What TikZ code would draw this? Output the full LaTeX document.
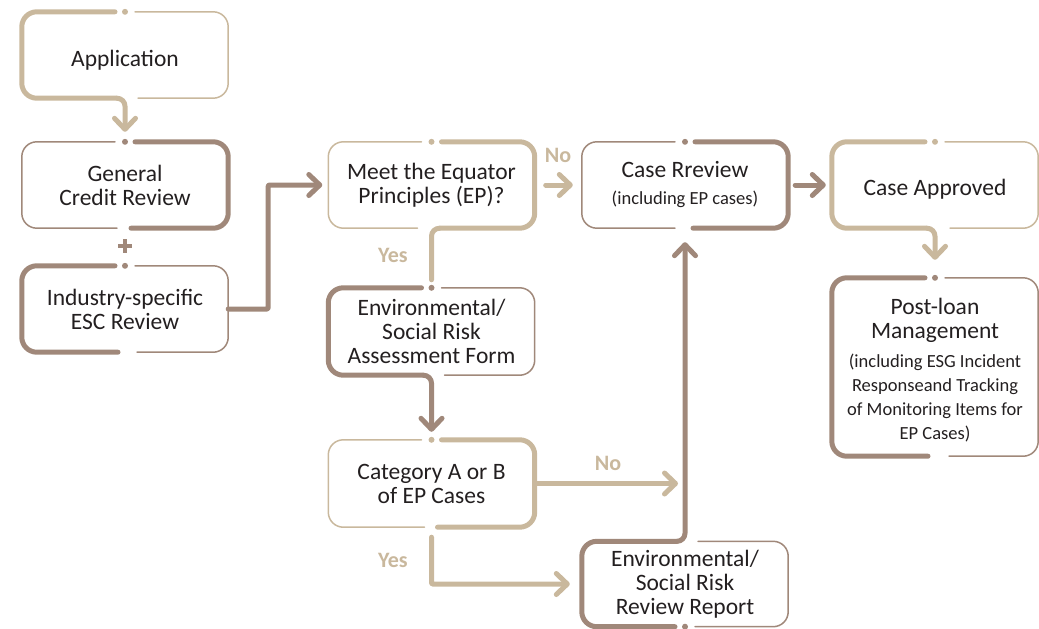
\documentclass[tikz,border=0pt]{standalone}
\usepackage{fontspec}
\setmainfont{Carlito}
\usetikzlibrary{arrows.meta,calc}
\definecolor{tanc}{RGB}{201,184,157}
\definecolor{brnc}{RGB}{160,136,122}
\definecolor{txtc}{RGB}{35,31,32}
\newcommand{\smalltxt}{\fontsize{18.5}{24}\selectfont}
\newcommand{\lowr}[2]{\raisebox{-#1}[\height][\depth]{#2}}
\begin{document}
\begin{tikzpicture}[x=1pt,y=-1pt,
  boxnode/.style={inner sep=0pt, minimum width=206pt, minimum height=86pt,
    font=\fontsize{23.5}{24}\selectfont, text=txtc, align=center},
  thk/.style={line width=5pt, line cap=round, line join=round, rounded corners=15pt},
  thn/.style={line width=1.5pt, line cap=round, line join=round, rounded corners=15pt},
  conn/.style={line width=5pt, line cap=round, line join=round, rounded corners=8pt},
  arr/.style={-{Straight Barb[length=11pt,width=21pt,round]}},
  lab/.style={font=\fontsize{22}{24}\selectfont\bfseries, text=tanc, inner sep=0pt}]
\useasboundingbox (0,0) rectangle (1039,629);

% nodes
\node[boxnode] (app) at (125,55) {\lowr{5pt}{Application}};
\node[boxnode] (gcr) at (125,185) {General\\Credit Review};
\node[boxnode] (isr) at (125,309) {Industry-specific\\ESC Review};
\node[boxnode] (meet) at (431.5,185) {Meet the Equator\\Principles (EP)?};
\node[boxnode, minimum height=87pt] (esra) at (431.5,331.5) {Environmental/\\Social Risk\\Assessment Form};
\node[boxnode, minimum height=87pt] (cat) at (431.5,483.5) {Category A or B\\of EP Cases};
\node[boxnode] (case) at (685,185) {Case Rreview\\[3pt]{\smalltxt (including EP cases)}};
\node[boxnode] (appr) at (935,185) {\lowr{4pt}{Case Approved}};
\node[boxnode, minimum height=178pt] (post) at (935,367) {\rule{0pt}{22pt}Post-loan\\Management\\[5pt]{\smalltxt (including ESG Incident}\\{\smalltxt Responseand Tracking}\\{\smalltxt of Monitoring Items for}\\{\smalltxt EP Cases)}};
\node[boxnode, minimum height=85pt] (esrr) at (685,584) {Environmental/\\Social Risk\\Review Report};

% Application (tan, left thick)
\draw[thk, tanc] ($(app.north)+(-10,0)$) -- (app.north west) -- (app.south west) -- ($(app.south)+(-8,0)$);
\draw[thn, tanc] ($(app.north)+(10,0)$) -- (app.north east) -- (app.south east) -- ($(app.south)+(13,0)$);
\fill[tanc] (app.north) circle (3pt);
\draw[conn, tanc, arr] ($(app.south)+(-8,0)$) -- (app.south) -- ($(gcr.north)+(0,-10)$);

% General Credit Review (brown, right thick)
\draw[thn, brnc] ($(gcr.north)+(-10,0)$) -- (gcr.north west) -- (gcr.south west) -- ($(gcr.south)+(-8,0)$);
\draw[thk, brnc] ($(gcr.north)+(10,0)$) -- (gcr.north east) -- (gcr.south east) -- ($(gcr.south)+(6,0)$);
\fill[brnc] (gcr.north) circle (3pt);

% plus sign
\draw[brnc, line width=4pt] (118,246) -- (132,246) (125,239) -- (125,253);

% Industry-specific (brown, left thick)
\draw[thk, brnc] ($(isr.north)+(-10,0)$) -- (isr.north west) -- (isr.south west) -- ($(isr.south)+(-7,0)$);
\draw[thn, brnc] ($(isr.north)+(10,0)$) -- (isr.north east) -- (isr.south east) -- ($(isr.south)+(12,0)$);
\fill[brnc] (isr.north) circle (3pt);
\draw[conn, brnc, arr, rounded corners=1pt] (isr.east) -- ++(40,0) |- ($(meet.west)+(-6,0)$);

% Meet (tan, right thick)
\draw[thn, tanc] ($(meet.north)+(-10,0)$) -- (meet.north west) -- (meet.south west) -- ($(meet.south)+(-14,0)$);
\draw[thk, tanc] ($(meet.north)+(10,0)$) -- (meet.north east) -- (meet.south east) -- ($(meet.south)+(8,0)$);
\fill[tanc] (meet.north) circle (3pt);
\draw[conn, tanc] ($(meet.south)+(8,0)$) -- (meet.south) -- ($(esra.north)+(0,-8)$);
\node[lab] (yes1) at (393,255) {Yes};
\node[lab] (no1) at (558,155) {No};
\draw[conn, tanc, arr] ($(meet.east)+(11,0)$) -- ($(case.west)+(-9,0)$);

% Env/Social Risk Assessment Form (brown, left thick)
\draw[thk, brnc] ($(esra.north)+(-10,0)$) -- (esra.north west) -- (esra.south west) -- ($(esra.south)+(-8,0)$);
\draw[thn, brnc] ($(esra.north)+(10,0)$) -- (esra.north east) -- (esra.south east) -- ($(esra.south)+(13,0)$);
\fill[brnc] (esra.north) circle (3pt);
\draw[conn, brnc, arr] ($(esra.south)+(-8,0)$) -- (esra.south) -- ($(cat.north)+(0,-8)$);

% Category (tan, right thick)
\draw[thn, tanc] ($(cat.north)+(-10,0)$) -- (cat.north west) -- (cat.south west) -- ($(cat.south)+(-7,0)$);
\draw[thk, tanc] ($(cat.north)+(10,0)$) -- (cat.north east) -- (cat.south east) -- ($(cat.south)+(6,0)$);
\fill[tanc] (cat.north) circle (3pt);
\draw[conn, tanc, arr] (cat.east) -- ($(cat.east -| esrr.north)+(-7,0)$);
\node[lab] (no2) at (608,463) {No};
\draw[conn, tanc, arr, rounded corners=1pt] ($(cat.south)+(0,10)$) |- ($(esrr.west)+(-12,0)$);
\node[lab] (yes2) at (393,560) {Yes};

% Case Review (brown, right thick)
\draw[thn, brnc] ($(case.north)+(-10,0)$) -- (case.north west) -- (case.south west) -- ($(case.south)+(-10,0)$);
\draw[thk, brnc] ($(case.north)+(10,0)$) -- (case.north east) -- (case.south east) -- ($(case.south)+(8,0)$);
\fill[brnc] (case.north) circle (3pt);
\draw[conn, brnc, arr] ($(case.east)+(7,0)$) -- ($(appr.west)+(-6,0)$);

% Case Approved (tan, left thick)
\draw[thk, tanc] ($(appr.north)+(-10,0)$) -- (appr.north west) -- (appr.south west) -- ($(appr.south)+(-8,0)$);
\draw[thn, tanc] ($(appr.north)+(10,0)$) -- (appr.north east) -- (appr.south east) -- ($(appr.south)+(15,0)$);
\fill[tanc] (appr.north) circle (3pt);
\draw[conn, tanc, arr] ($(appr.south)+(-8,0)$) -- (appr.south) -- ($(post.north)+(0,-18)$);

% Post-loan (brown, left thick)
\draw[thk, brnc] ($(post.north)+(-10,0)$) -- (post.north west) -- (post.south west) -- ($(post.south)+(-7,0)$);
\draw[thn, brnc] ($(post.north)+(10,0)$) -- (post.north east) -- (post.south east) -- ($(post.south)+(14,0)$);
\fill[brnc] (post.north) circle (3pt);

% Env/Social Risk Review Report (brown, left thick, goes up to Case Review)
\draw[thk, brnc] ($(esrr.south)+(-10,0)$) -- (esrr.south west) -- (esrr.north west) -- ($(esrr.north)+(-8,0)$);
\draw[thn, brnc] ($(esrr.north)+(13,0)$) -- (esrr.north east) -- (esrr.south east) -- ($(esrr.south)+(10,0)$);
\fill[brnc] (esrr.south) circle (3pt);
\draw[conn, brnc, arr] ($(esrr.north)+(-8,0)$) -- (esrr.north) -- ($(case.south)+(0,14)$);
\end{tikzpicture}
\end{document}
